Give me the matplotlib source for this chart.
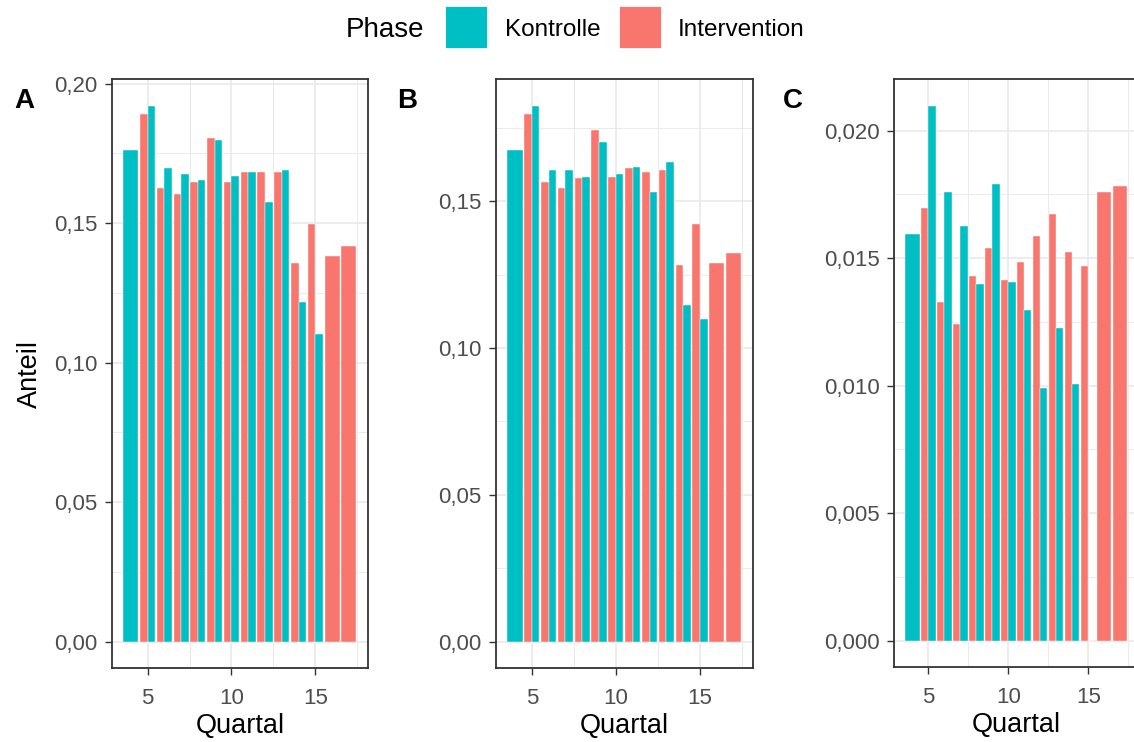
import numpy as np
import matplotlib
matplotlib.use("Agg")
import matplotlib.pyplot as plt
from matplotlib.patches import Rectangle
from matplotlib.ticker import FuncFormatter, MultipleLocator

plt.rcParams['font.family'] = ['Liberation Sans', 'DejaVu Sans']

nan = np.nan
quartal = np.arange(4, 18)

# Anteil je Quartal und Phase (nan = kein Wert in dieser Phase)
a_kontrolle = [0.1762, 0.1920, 0.1697, 0.1675, 0.1654, 0.1797, 0.1668, 0.1682, 0.1575, 0.1690, 0.1216, 0.1101, nan, nan]
a_intervention = [nan, 0.1892, 0.1626, 0.1603, 0.1646, 0.1805, 0.1646, 0.1682, 0.1682, 0.1682, 0.1359, 0.1496, 0.1381, 0.1417]

b_kontrolle = [0.1674, 0.1824, 0.1606, 0.1606, 0.1584, 0.1701, 0.1591, 0.1618, 0.1530, 0.1632, 0.1148, 0.1100, nan, nan]
b_intervention = [nan, 0.1797, 0.1564, 0.1544, 0.1579, 0.1742, 0.1584, 0.1612, 0.1598, 0.1605, 0.1284, 0.1421, 0.1291, 0.1325]

c_kontrolle = [0.01595, 0.02097, 0.01760, 0.01628, 0.01399, 0.01791, 0.01407, 0.01298, 0.00991, 0.01227, 0.01008, 0.0, nan, nan]
c_intervention = [nan, 0.01697, 0.01329, 0.01243, 0.01431, 0.01540, 0.01415, 0.01486, 0.01587, 0.01673, 0.01525, 0.01470, 0.01760, 0.01783]

phasen = ['Kontrolle', 'Intervention']
farben = {'Kontrolle': '#00BFC4', 'Intervention': '#F8766D'}

W, H = 1134, 742


def px_axes(fig, left, right, top, bottom):
	return fig.add_axes([left / W, 1 - bottom / H, (right - left) / W, (bottom - top) / H])


def panel(ax, kontrolle, intervention, step, decimals):
	k = np.array(kontrolle, dtype=float)
	iv = np.array(intervention, dtype=float)
	both = ~np.isnan(k) & ~np.isnan(iv)
	# dodge: Intervention links, Kontrolle rechts
	xk = np.where(both, quartal + 0.225, quartal)
	xi = np.where(both, quartal - 0.225, quartal)
	w = np.where(both, 0.45, 0.9)
	mk = ~np.isnan(k)
	mi = ~np.isnan(iv)
	ax.bar(xi[mi], iv[mi], width=w[mi], color=farben['Intervention'], edgecolor='white', linewidth=0.3, zorder=2)
	ax.bar(xk[mk], k[mk], width=w[mk], color=farben['Kontrolle'], edgecolor='white', linewidth=0.3, zorder=2)

	ymax = np.nanmax(np.concatenate([k, iv]))
	ax.set_ylim(-0.05 * ymax, 1.05 * ymax)
	ax.set_xlim(2.855, 18.145)

	ax.xaxis.set_major_locator(MultipleLocator(5))
	ax.xaxis.set_minor_locator(MultipleLocator(2.5))
	ax.yaxis.set_major_locator(MultipleLocator(step))
	ax.yaxis.set_minor_locator(MultipleLocator(step / 2))
	ax.yaxis.set_major_formatter(FuncFormatter(lambda v, p: ('%.*f' % (decimals, v)).replace('.', ',')))

	ax.grid(True, which='major', color='#EBEBEB', linewidth=1.3, zorder=0)
	ax.grid(True, which='minor', color='#EBEBEB', linewidth=0.7, zorder=0)
	ax.set_axisbelow(True)
	ax.tick_params(which='major', length=5, width=1.0, color='#333333', labelsize=16, labelcolor='#4D4D4D')
	ax.tick_params(axis='y', pad=5)
	ax.tick_params(axis='x', pad=9)
	ax.tick_params(which='minor', length=0)
	for s in ax.spines.values():
		s.set_color('#333333')
		s.set_linewidth(1.3)
	ax.set_xlabel('Quartal', fontsize=19.5, labelpad=3)


def main():
	fig = plt.figure(figsize=(W / 100, H / 100), dpi=100)

	ax_a = px_axes(fig, 111.7, 368, 79.3, 668.3)
	ax_b = px_axes(fig, 495.7, 752.9, 79.3, 668.3)
	ax_c = px_axes(fig, 894, 1138.6, 79.3, 667.3)

	panel(ax_a, a_kontrolle, a_intervention, 0.05, 2)
	panel(ax_b, b_kontrolle, b_intervention, 0.05, 2)
	panel(ax_c, c_kontrolle, c_intervention, 0.005, 3)
	ax_c.spines['right'].set_visible(False)
	ax_a.set_ylabel('Anteil', fontsize=19.5, labelpad=8)

	for lab, x in [('A', 14), ('B', 397), ('C', 783)]:
		fig.text(x / W, 1 - 101 / H, lab, fontsize=20, fontweight='bold', ha='left', va='center')

	# Legende oben
	fig.text(346 / W, 1 - 30 / H, 'Phase', fontsize=20, ha='left', va='center')
	for name, x0, tx in [('Kontrolle', 444.5, 505), ('Intervention', 618.7, 677.7)]:
		fig.patches.append(Rectangle((x0 / W, 1 - 47.7 / H), 42.2 / W, 42 / H, transform=fig.transFigure,
			facecolor=farben[name], edgecolor='white', linewidth=0.6))
		fig.text(tx / W, 1 - 30 / H, name, fontsize=17.5, ha='left', va='center')

	fig.savefig('out.png', dpi=100)


if __name__ == "__main__":
	main()
